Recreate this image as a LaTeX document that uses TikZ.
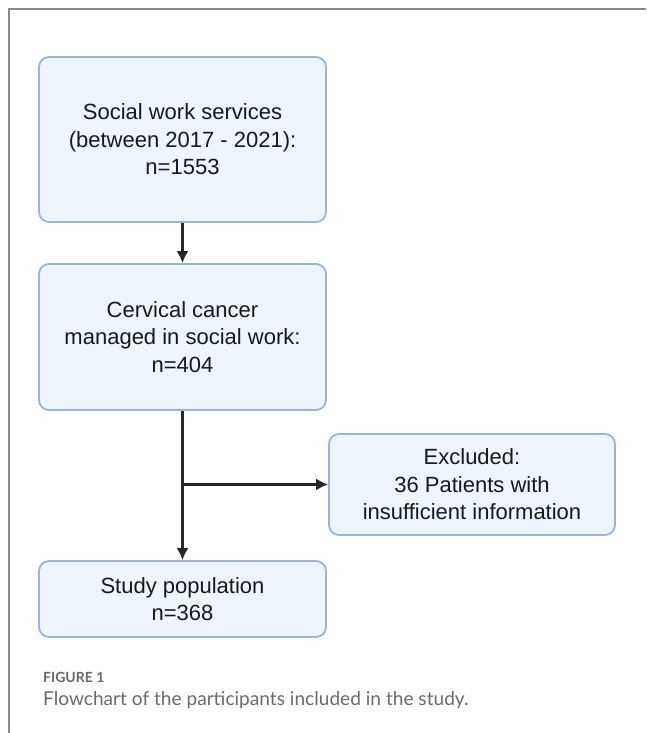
\documentclass[tikz,border=0pt]{standalone}
\usepackage{fontspec}
\setmainfont{Liberation Sans}
\newfontfamily\captionfont{Lato}
\usetikzlibrary{positioning,arrows.meta}
\definecolor{boxfill}{HTML}{EEF4FC}
\definecolor{boxline}{HTML}{9DB4DA}
\definecolor{framegray}{HTML}{8A8A8A}
\definecolor{captiongray}{HTML}{6B6B6B}
\tikzset{
  flowarrow/.style={-{Latex[length=12pt,width=12pt]}, line width=2.3pt, draw=black!85},
  flowbox/.style={draw=boxline, line width=1.8pt, rounded corners=10pt, fill=boxfill, minimum width=287pt, align=center, text=black!90, font=\fontsize{22}{27.5}\selectfont},
  capsmall/.style={font=\captionfont\bfseries\fontsize{14}{16}\selectfont, text=captiongray, anchor=west, inner sep=0pt},
  capmain/.style={font=\captionfont\fontsize{19.1}{22}\selectfont, text=captiongray, anchor=west, inner sep=0pt}
}

\begin{document}
\begin{tikzpicture}[x=1pt, y=-1pt]
      \useasboundingbox (0,0) rectangle (646,733);
      % frame of the figure
      \draw[framegray, line width=1.5pt] (9,733) -- (9,9) -- (646,9);
      % boxes
      \node[flowbox, minimum height=165pt] (services) at (182.5,139.5) {Social work services\\(between 2017 - 2021):\\n=1553};
      \node[flowbox, minimum height=146pt] (cervical) at (182.5,337) {Cervical cancer\\managed in social work:\\n=404};
      \node[flowbox, minimum width=286pt, minimum height=101pt] (excluded) at (472,484.5) {Excluded:\\36 Patients with\\insufficient information};
      \node[flowbox, minimum height=76pt] (study) at (182.5,599) {Study population\\n=368};
      \coordinate (junction) at (cervical.south |- excluded.west);
      % connectors
      \draw[flowarrow] (services) -- (cervical);
      \draw[flowarrow] (cervical) -- (study);
      \draw[flowarrow] (junction) -- (excluded);
      % caption
      \node[capsmall] (figlabel) at (43,677) {FIGURE 1};
      \node[capmain] (figtext) at (43,700) {Flowchart of the participants included in the study.};
\end{tikzpicture}
\end{document}
